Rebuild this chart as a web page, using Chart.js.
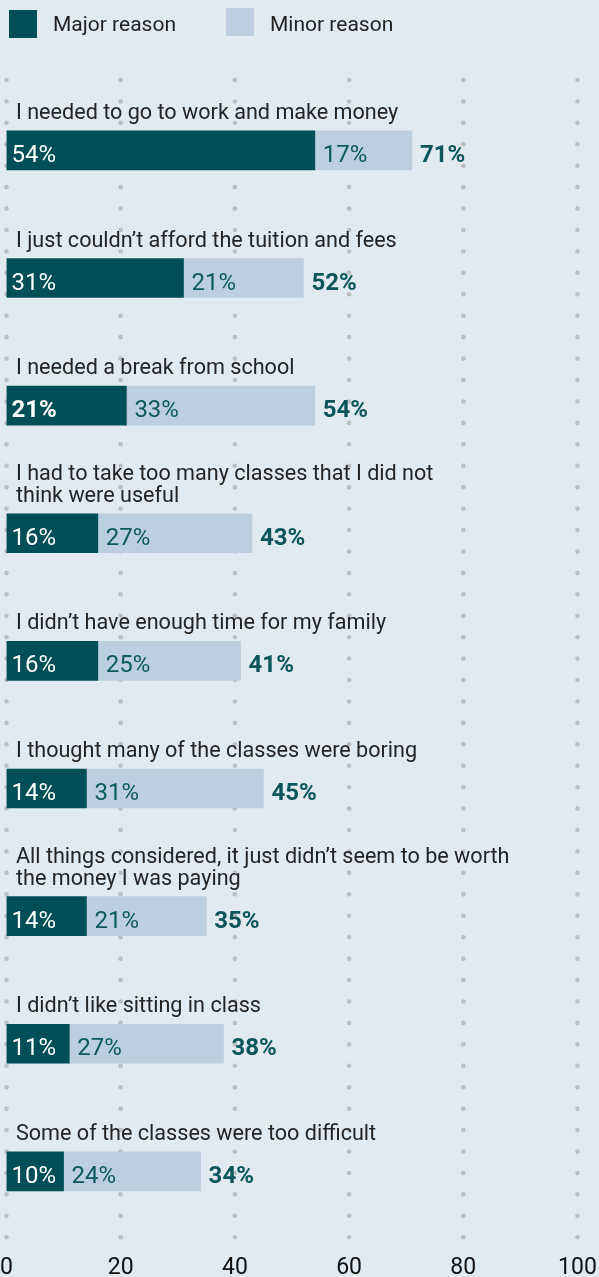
<!DOCTYPE html>
<html>
<head>
<meta charset="utf-8">
<script src="https://cdn.jsdelivr.net/npm/chart.js@4/dist/chart.umd.min.js"></script>
<style>
  html, body { margin: 0; padding: 0; background: #e1e9f1; }
  #wrap { position: relative; width: 599px; height: 1277px; }
  #chart { position: absolute; left: 0; top: 0; }
  .key { position: absolute; font-family: Roboto, sans-serif; font-size: 21px; color: #222; line-height: 28px; }
  .swatch { position: absolute; width: 28px; height: 28px; }
</style>
</head>
<body>
<div id="wrap">
  <canvas id="chart" width="599" height="1277"></canvas>
  <div class="swatch" style="left:9px; top:10px; background:#004f56;"></div>
  <div class="key" style="left:53px; top:10px;">Major reason</div>
  <div class="swatch" style="left:226px; top:8px; background:#bccfe0;"></div>
  <div class="key" style="left:270px; top:10px;">Minor reason</div>
</div>
<script>
// Data
const reasons = [
    ["I needed to go to work and make money"],
    ["I just couldn\u2019t afford the tuition and fees"],
    ["I needed a break from school"],
    ["I had to take too many classes that I did not", "think were useful"],
    ["I didn\u2019t have enough time for my family"],
    ["I thought many of the classes were boring"],
    ["All things considered, it just didn\u2019t seem to be worth", "the money I was paying"],
    ["I didn\u2019t like sitting in class"],
    ["Some of the classes were too difficult"]
];
const majorReason = [54, 31, 21, 16, 16, 14, 14, 11, 10];
const minorReason = [17, 21, 33, 27, 25, 31, 21, 27, 24];
const totals = [71, 52, 54, 43, 41, 45, 35, 38, 34];
const xTicks = [0, 20, 40, 60, 80, 100];
const boldMajor = [2]; // the reference prints this one major value in bold

const DARK = "#004f56";
const LIGHT = "#bccfe0";
const TEAL_TEXT = "#0e5860";
const FONT = "Roboto, sans-serif";

// dotted vertical gridlines, drawn under the bars
const dotGrid = {
    id: "dotGrid",
    beforeDatasetsDraw(chart) {
        const ctx = chart.ctx;
        const area = chart.chartArea;
        const xScale = chart.scales.x;
        ctx.save();
        ctx.fillStyle = "#bbbec3";
        for (const v of xTicks) {
            const px = xScale.getPixelForValue(v);
            for (let py = area.top - 6.6; py <= area.bottom + 4; py += 21.43) {
                ctx.beginPath();
                ctx.arc(px, py, 2.3, 0, Math.PI * 2);
                ctx.fill();
            }
        }
        ctx.restore();
    }
};

// category names above each bar, percentages on and after the bars
const barText = {
    id: "barText",
    afterDatasetsDraw(chart) {
        const ctx = chart.ctx;
        const area = chart.chartArea;
        const majorBars = chart.getDatasetMeta(0).data;
        const minorBars = chart.getDatasetMeta(1).data;
        ctx.save();
        ctx.textBaseline = "alphabetic";
        ctx.textAlign = "left";
        for (let i = 0; i < reasons.length; i++) {
            const mj = majorBars[i];
            const mn = minorBars[i];
            const top = mj.y - mj.height / 2;

            // label lines, bottom line sits just above the bar
            ctx.font = "21.6px " + FONT;
            ctx.fillStyle = "#242424";
            const lines = reasons[i];
            for (let k = 0; k < lines.length; k++) {
                const y = top - 12 - (lines.length - 1 - k) * 21.5;
                ctx.fillText(lines[k], area.left + 9.5, y);
            }

            const base = mj.y + 11.5;
            ctx.font = (boldMajor.includes(i) ? "bold " : "") + "24px " + FONT;
            ctx.fillStyle = "#ffffff";
            ctx.fillText(majorReason[i] + "%", mj.base + 5, base);

            ctx.font = "24px " + FONT;
            ctx.fillStyle = TEAL_TEXT;
            ctx.fillText(minorReason[i] + "%", mn.base + 8, base);

            ctx.font = "bold 24px " + FONT;
            ctx.fillStyle = "#0b555d";
            ctx.fillText(totals[i] + "%", mn.x + 8, base);
        }
        ctx.restore();
    }
};

const ctx = document.getElementById("chart").getContext("2d");
const chart = new Chart(ctx, {
    type: "bar",
    data: {
        labels: reasons,
        datasets: [
            { label: "Major reason", data: majorReason, backgroundColor: DARK, barThickness: 39 },
            { label: "Minor reason", data: minorReason, backgroundColor: LIGHT, barThickness: 39 }
        ]
    },
    options: {
        indexAxis: "y",
        responsive: false,
        animation: false,
        layout: { padding: { top: 86.6, left: 5.7, right: 21.5, bottom: 0 } },
        plugins: {
            legend: { display: false },
            tooltip: { enabled: false }
        },
        scales: {
            x: {
                stacked: true,
                min: 0,
                max: 100,
                afterBuildTicks(scale) {
                    scale.ticks = xTicks.map(v => ({ value: v }));
                },
                afterFit(scale) {
                    scale.height = 41.8;
                },
                grid: { display: false, drawTicks: true, tickLength: 19 },
                border: { display: false },
                ticks: {
                    color: "#111",
                    padding: 0,
                    maxRotation: 0,
                    font: { family: FONT, size: 23 }
                }
            },
            y: {
                stacked: true,
                display: false
            }
        }
    },
    plugins: [dotGrid, barText]
});
</script>
</body>
</html>
